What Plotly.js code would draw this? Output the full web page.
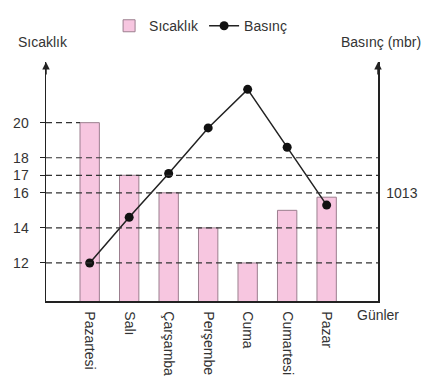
<!DOCTYPE html>
<html>
<head>
<meta charset="utf-8">
<script src="https://cdn.plot.ly/plotly-3.0.1.min.js"></script>
<style>html,body{margin:0;padding:0;background:#fff;}#chart{width:427px;height:382px;}</style>
</head>
<body>
<div id="chart"></div>
<script>
// Data
var gunler = ["Pazartesi", "Salı", "Çarşamba", "Perşembe", "Cuma", "Cumartesi", "Pazar"];
var sicaklik = [20, 17, 16, 14, 12, 15, 15.75];
var basinc = [1009.0, 1011.6, 1014.1, 1016.7, 1018.9, 1015.6, 1012.3];
var sicaklikTicks = [12, 14, 16, 17, 18, 20];
var basincTicks = [1013];

var yRange = [9.83, 23.46];
var offset = 997; // 1013 mbr aligned with 16
var y2Range = [yRange[0] + offset, yRange[1] + offset];
var xRange = [-1.106, 7.3];
var barWidth = 0.49;

var font = "Liberation Sans, Arial, sans-serif";
var txt = "#333";

// reference dashed lines at tick levels
var shapes = sicaklikTicks.map(function (v) {
  var full = v !== 20;
  return {
    type: "line", xref: "x", yref: "y",
    x0: xRange[0], x1: full ? xRange[1] : (0 - barWidth / 2),
    y0: v, y1: v, layer: "above",
    line: {color: "#333", width: 1.2, dash: "6px,4px"}
  };
});

var traces = [
  {
    type: "bar", name: "Sıcaklık", x: gunler, y: sicaklik, width: barWidth,
    marker: {color: "#f7c6e0", line: {color: "#9c7f8f", width: 1}}
  },
  {
    type: "scatter", mode: "lines+markers", name: "Basınç", x: gunler, y: basinc, yaxis: "y2",
    line: {color: "#222", width: 1.5},
    marker: {color: "#111", size: 9}
  }
];

var layout = {
  width: 427, height: 382,
  margin: {l: 46, r: 49, t: 62, b: 81, autoexpand: false},
  paper_bgcolor: "#fff", plot_bgcolor: "#fff",
  font: {family: font, size: 13, color: txt},
  showlegend: true,
  legend: {orientation: "h", x: 0.19, y: 1.15, xanchor: "left", yanchor: "middle",
           font: {size: 14, color: txt}, itemwidth: 30, traceorder: "normal"},
  xaxis: {
    type: "category", range: xRange, showgrid: false, zeroline: false,
    showline: true, linecolor: "#222", linewidth: 1.5,
    ticks: "", tickangle: 90, ticklabelstandoff: 6,
    tickfont: {size: 14, color: txt}, fixedrange: true
  },
  yaxis: {
    range: yRange, tickvals: sicaklikTicks, ticktext: sicaklikTicks.map(String),
    showgrid: false, zeroline: false, showline: true, linecolor: "#222", linewidth: 1.5,
    ticks: "outside", ticklen: 5, tickcolor: "#222", ticklabelstandoff: 8,
    tickfont: {size: 14, color: txt}
  },
  yaxis2: {
    range: y2Range, overlaying: "y", side: "right", tickvals: basincTicks,
    ticktext: basincTicks.map(String),
    showgrid: false, zeroline: false, showline: true, linecolor: "#222", linewidth: 1.5,
    ticks: "", ticklabelstandoff: 4, tickfont: {size: 14, color: txt}
  },
  shapes: shapes,
  annotations: [
    {xref: "paper", yref: "paper", x: 0, y: 1, showarrow: true, arrowhead: 2, arrowsize: 1,
     arrowwidth: 1.5, arrowcolor: "#222", ax: 0, ay: 14, text: ""},
    {xref: "paper", yref: "paper", x: 1, y: 1, showarrow: true, arrowhead: 2, arrowsize: 1,
     arrowwidth: 1.5, arrowcolor: "#222", ax: 0, ay: 14, text: ""},
    {xref: "paper", yref: "paper", x: -0.09, y: 1, yshift: 10, xanchor: "left", yanchor: "bottom",
     showarrow: false, text: "Sıcaklık", font: {size: 14, color: txt}},
    {xref: "paper", yref: "paper", x: 1.135, y: 1, yshift: 10, xanchor: "right", yanchor: "bottom",
     showarrow: false, text: "Basınç (mbr)", font: {size: 14, color: txt}},
    {xref: "paper", yref: "paper", x: 0.93, y: 0, yshift: -14, xanchor: "left", yanchor: "middle",
     showarrow: false, text: "Günler", font: {size: 14, color: txt}}
  ]
};

Plotly.newPlot("chart", traces, layout, {displayModeBar: false, staticPlot: true});
</script>
</body>
</html>
